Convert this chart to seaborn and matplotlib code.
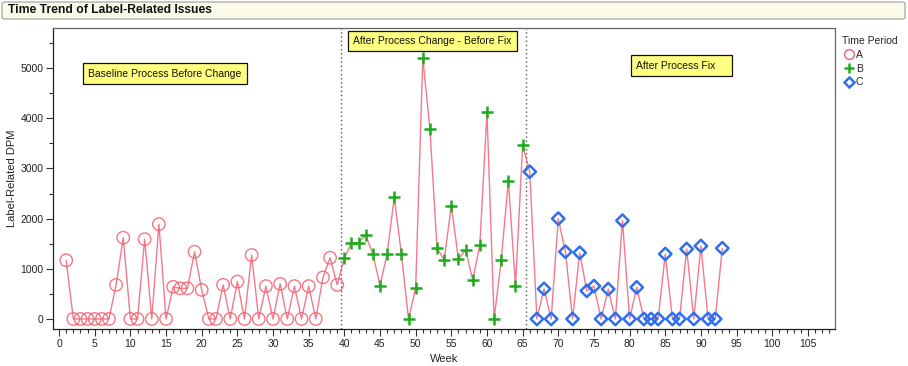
import numpy as np
import pandas as pd
import matplotlib
matplotlib.use("Agg")
import matplotlib.pyplot as plt
from matplotlib.lines import Line2D
from matplotlib.patches import FancyBboxPatch
from matplotlib.ticker import MultipleLocator
import seaborn as sns

# ---- data ----
weeks_a = list(range(1, 40))
dpm_a = [1170, 0, 0, 0, 0, 0, 0, 680, 1620, 0, 0, 1590, 0, 1890, 0, 640, 610, 610,
         1340, 580, 0, 0, 680, 0, 745, 0, 1275, 0, 655, 0, 700, 0, 655, 0, 655, 0,
         830, 1220, 680]
weeks_b = list(range(40, 66))
dpm_b = [1210, 1520, 1520, 1670, 1295, 665, 1295, 2425, 1295, 0, 610, 5205, 3785,
         1410, 1175, 2260, 1195, 1375, 775, 1475, 4120, 0, 1175, 2755, 655, 3465]
weeks_c = list(range(66, 94))
dpm_c = [2935, 0, 600, 0, 2000, 1340, 0, 1320, 560, 655, 0, 595, 0, 1960, 0, 630,
         0, 0, 0, 1295, 0, 0, 1395, 0, 1455, 0, 0, 1410]
periods = ["A", "B", "C"]
period_labels = ["Baseline Process Before Change",
                 "After Process Change - Before Fix",
                 "After Process Fix"]
x_ticks = list(range(0, 110, 5))
y_ticks = [0, 1000, 2000, 3000, 4000, 5000]

df = pd.DataFrame({
    "Week": weeks_a + weeks_b + weeks_c,
    "DPM": dpm_a + dpm_b + dpm_c,
    "Period": ["A"] * len(weeks_a) + ["B"] * len(weeks_b) + ["C"] * len(weeks_c),
})

sns.set_theme(style="white")
plt.rcParams["font.family"] = ["Liberation Sans", "DejaVu Sans"]

W, H = 908, 366
fig = plt.figure(figsize=(W / 100, H / 100), dpi=100)
ax = fig.add_axes([53 / W, 1 - 329 / H, (835 - 53) / W, (329 - 28) / H])

line_col = "#f04c64"
col_a = "#f2606e"
col_b = "#1faa1f"
col_c = "#2f6fef"

sns.lineplot(data=df, x="Week", y="DPM", ax=ax, color=line_col, lw=1.0,
             alpha=0.75, sort=False, estimator=None)

da = df[df.Period == "A"]
db = df[df.Period == "B"]
dc = df[df.Period == "C"]
sns.scatterplot(data=da, x="Week", y="DPM", ax=ax, marker="o", s=80,
                facecolor="none", edgecolor=col_a, linewidth=1.0, alpha=0.85,
                zorder=3)
sns.scatterplot(data=db, x="Week", y="DPM", ax=ax, marker="+", s=75,
                color=col_b, linewidth=1.8, zorder=3)
sns.scatterplot(data=dc, x="Week", y="DPM", ax=ax, marker="D", s=40,
                facecolor="none", edgecolor=col_c, linewidth=1.8, zorder=3)

for xv in (39.5, 65.5):
    ax.axvline(xv, color="#555555", ls=(0, (1, 2)), lw=1.0, zorder=1)

ax.set_xlim(-0.85, 108.8)
ax.set_ylim(-200, 5800)
ax.set_xticks(x_ticks)
ax.set_yticks(y_ticks)
ax.xaxis.set_minor_locator(MultipleLocator(1))
ax.yaxis.set_minor_locator(MultipleLocator(500))
ax.tick_params(axis="both", which="major", direction="out", length=5, width=0.8,
               color="#333333", labelsize=7.5, labelcolor="#222222", pad=2)
ax.tick_params(axis="both", which="minor", direction="out", length=3, width=0.8,
               color="#333333")
ax.tick_params(bottom=True, left=True, which="both")
for s in ax.spines.values():
    s.set_color("#666666")
    s.set_linewidth(0.9)
ax.spines["left"].set_color("#222222")
ax.spines["bottom"].set_color("#222222")
ax.set_xlabel("Week", fontsize=8, color="#222222", labelpad=4)
ax.set_ylabel("Label-Related DPM", fontsize=8, color="#222222", labelpad=2)

# annotation boxes
def box():
    return dict(boxstyle="square,pad=0.5", facecolor="#ffff80",
                edgecolor="#111111", linewidth=0.9)

ax.text(4.1, 4890, period_labels[0], fontsize=7.5, ha="left", va="center",
        color="#111111", bbox=box(), zorder=5)
ax.text(41.2, 5540, period_labels[1], fontsize=7.5, ha="left", va="center",
        color="#111111", bbox=box(), zorder=5)
ax.text(80.9, 5050, period_labels[2] + "    ", fontsize=7.5, ha="left",
        va="center", color="#111111", bbox=box(), zorder=5)

# legend
handles = [
    Line2D([], [], ls="none", marker="o", markersize=7, markerfacecolor="none",
           markeredgecolor=col_a, markeredgewidth=1.0),
    Line2D([], [], ls="none", marker="+", markersize=7, color=col_b,
           markeredgewidth=1.8),
    Line2D([], [], ls="none", marker="D", markersize=5, markerfacecolor="none",
           markeredgecolor=col_c, markeredgewidth=1.8),
]
leg = fig.legend(handles, periods, title="Time Period", loc="upper left",
                 bbox_to_anchor=(836 / W, 1 - 30 / H), frameon=False,
                 fontsize=7.5, title_fontsize=7.5, handletextpad=0.1,
                 handlelength=1.2, labelspacing=0.35, borderaxespad=0.2)
leg._legend_box.align = "left"

# title bar
bar = FancyBboxPatch((2 / W, 1 - 19 / H), (W - 5) / W, 17 / H,
                     boxstyle="round,pad=0,rounding_size=0.004",
                     transform=fig.transFigure, facecolor="#fbf9e9",
                     edgecolor="#a8a8a0", linewidth=0.9, zorder=0)
fig.patches.append(bar)
fig.text(8 / W, 1 - 10 / H, "Time Trend of Label-Related Issues", fontsize=8.7,
         fontweight="bold", ha="left", va="center", color="#111111")

fig.savefig("out.png", dpi=100)
